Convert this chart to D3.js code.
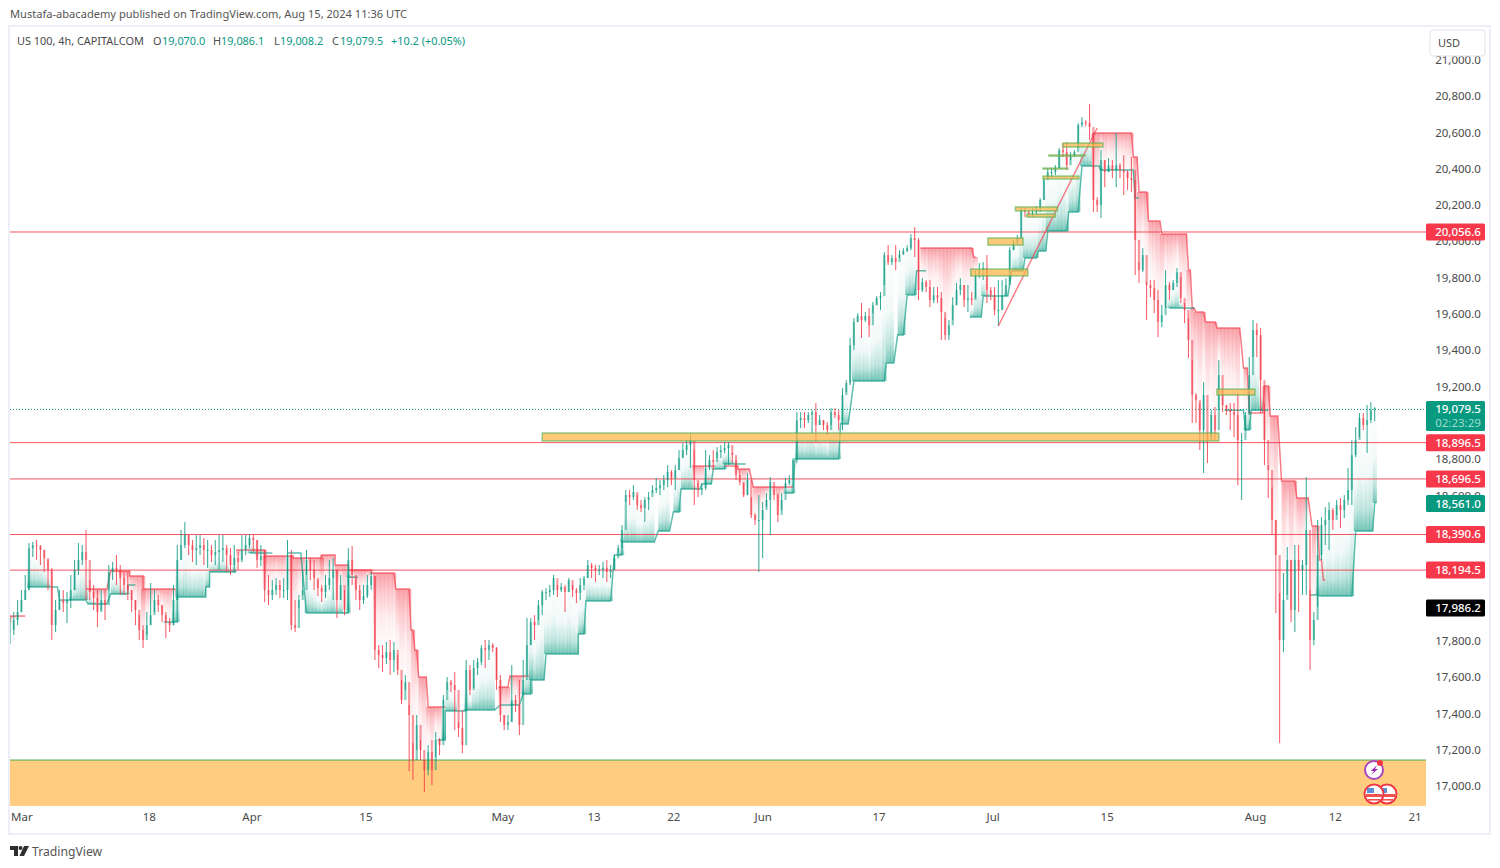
<!DOCTYPE html>
<html>
<head>
<meta charset="utf-8">
<title>US 100, 4h</title>
<script src="https://cdn.jsdelivr.net/npm/d3@7/dist/d3.min.js"></script>
<style>
html, body { margin: 0; padding: 0; background: #fff; }
svg { display: block; font-family: "Noto Sans", sans-serif; }
</style>
</head>
<body>
<script>
// one candle for every two 4h bars
const closes = [
    17859,17914,17958,18024,18079,18310,18327,18321,18300,18255,
    18190,17886,17969,18024,18007,18024,18079,18190,18245,18288,
    18245,18068,18035,17958,18024,17996,18178,18201,18190,18145,
    18107,18079,18024,17969,17859,17804,17886,17941,18024,17996,
    17941,17903,17886,18024,18245,18327,18382,18327,18300,18310,
    18327,18300,18300,18272,18288,18300,18310,18272,18217,18255,
    18234,18300,18327,18366,18355,18245,18266,18079,18052,18079,
    18107,18079,18079,18272,17886,17870,18024,18079,18245,18190,
    18145,18090,18068,18107,18145,18190,18024,18107,17969,18245,
    18162,18079,18024,18046,18107,18156,17749,17721,17704,17737,
    17694,17749,17639,17474,17572,17391,17143,17336,17198,17088,
    17187,17088,17253,17225,17474,17572,17556,17529,17319,17225,
    17639,17529,17650,17683,17760,17749,17776,17760,17584,17391,
    17336,17352,17474,17446,17336,17584,17776,17903,17886,17996,
    18068,18068,18079,18145,18079,18096,18068,18134,18079,18063,
    18107,18145,18217,18201,18190,18190,18201,18178,18190,18255,
    18310,18410,18602,18591,18619,18547,18530,18575,18591,18630,
    18641,18657,18685,18729,18696,18740,18806,18850,18878,18905,
    18685,18630,18641,18751,18795,18784,18839,18850,18861,18878,
    18822,18712,18674,18602,18685,18492,18465,18465,18520,18575,
    18674,18602,18492,18575,18668,18685,18795,19015,19026,19015,
    19043,19059,18988,19015,18988,18960,19059,19043,19015,19153,
    19219,19428,19555,19588,19566,19588,19538,19648,19687,19698,
    19924,19885,19907,19885,19929,19946,19962,20017,20006,19731,
    19775,19748,19676,19703,19687,19610,19483,19538,19648,19731,
    19759,19676,19687,19676,19814,19841,19852,19731,19703,19621,
    19621,19703,19759,19951,19995,20017,20172,20161,20155,20161,
    20177,20227,20337,20381,20381,20403,20502,20491,20419,20474,
    20491,20640,20656,20651,20629,20227,20199,20447,20381,20419,
    20392,20419,20392,20381,20348,20337,20007,19841,19924,19759,
    19742,19676,19555,19593,19759,19731,19770,19830,19687,19621,
    19456,19153,19125,18960,19153,18905,19043,18960,19263,19098,
    19070,19059,19043,18905,18905,19043,19263,19511,19483,19235,
    18905,18740,18465,18272,17804,18024,18245,17969,18245,18190,
    18217,18410,17804,17914,18272,18437,18465,18520,18465,18547,
    18520,18575,18630,18822,18905,19026,18988,19015,19070,19079.5
];
const highs = [
    17925,17958,18024,18079,18162,18338,18344,18355,18327,18300,
    18245,18201,18024,18079,18079,18068,18162,18245,18338,18327,
    18410,18134,18107,18079,18079,18079,18217,18234,18272,18217,
    18178,18178,18079,18024,17941,17886,17958,18118,18079,18052,
    17996,17958,17925,18107,18327,18410,18454,18382,18355,18382,
    18382,18366,18355,18327,18355,18382,18382,18327,18310,18327,
    18288,18382,18382,18387,18387,18355,18327,18300,18162,18134,
    18145,18134,18145,18355,18300,18024,18052,18190,18300,18255,
    18245,18134,18107,18162,18245,18255,18190,18162,18079,18310,
    18321,18145,18107,18107,18162,18178,18156,17776,17776,17793,
    17804,17793,17721,17584,17611,17446,17236,17391,17253,17143,
    17225,17253,17297,17264,17501,17600,17584,17627,17352,17418,
    17694,17666,17694,17705,17776,17804,17804,17787,17765,17611,
    17391,17391,17666,17501,17584,17694,17925,17925,17941,18024,
    18079,18090,18107,18162,18107,18118,18107,18145,18107,18090,
    18145,18156,18245,18228,18217,18217,18234,18245,18217,18272,
    18327,18437,18630,18630,18657,18602,18575,18591,18619,18657,
    18696,18685,18712,18767,18740,18767,18850,18888,18905,18944,
    18850,18668,18668,18850,18822,18850,18866,18878,18894,18894,
    18834,18795,18740,18668,18723,18591,18503,18602,18564,18613,
    18701,18630,18613,18613,18696,18712,18806,19059,19059,19059,
    19059,19070,19109,19043,19015,19004,19081,19081,19070,19191,
    19235,19467,19577,19604,19660,19610,19632,19665,19698,19720,
    19940,19979,19924,19979,19951,19962,19979,20039,20078,20017,
    19797,19786,19786,19748,19748,19720,19577,19566,19692,19770,
    19797,19759,19759,19720,19841,19880,19885,19924,19748,19748,
    19786,19786,19797,19968,20006,20034,20188,20183,20172,20183,
    20194,20238,20348,20403,20403,20419,20513,20540,20546,20491,
    20502,20651,20684,20667,20755,20596,20243,20502,20447,20458,
    20447,20596,20430,20474,20392,20464,20392,19885,19962,19775,
    19786,19786,19731,19648,19841,19775,19786,19852,19803,19660,
    19577,19345,19164,19109,19224,18944,19070,19087,19345,19180,
    19098,19109,19109,19164,18944,19059,19362,19566,19549,19522,
    19109,18767,18646,18465,18063,18173,18316,18245,18327,18327,
    18245,18701,18079,17958,18465,18481,18536,18564,18531,18575,
    18586,18602,18751,18905,18976,19054,19054,19098,19114,19086.1
];
const lows = [
    17781,17831,17886,17958,18024,18079,18261,18245,18217,18178,
    18079,17804,17848,17969,17958,17897,17980,18079,18162,18217,
    18024,18024,17969,17875,17969,17914,18079,18134,18107,18052,
    18052,18024,17958,17886,17804,17760,17831,17886,17958,17958,
    17903,17815,17848,17886,18024,18245,18310,18272,18234,18217,
    18272,18217,18201,18234,18217,18190,18234,18178,18162,18178,
    18190,18245,18272,18310,18288,18201,18211,18013,17996,18024,
    18052,18035,18035,18024,17859,17848,17980,18052,18162,18134,
    18079,18046,18013,18035,18079,18024,17925,18024,17941,18107,
    18107,18024,17969,18002,18035,18079,17694,17649,17627,17671,
    17611,17627,17611,17451,17529,17082,17033,17198,17143,16966,
    17060,17005,17159,17170,17253,17529,17517,17308,17270,17181,
    17407,17501,17539,17611,17666,17649,17694,17737,17529,17352,
    17308,17308,17352,17407,17280,17501,17611,17776,17804,17914,
    17941,18024,18041,18052,18041,18068,17958,18068,18041,18007,
    18024,18079,18145,18145,18123,18162,18145,18123,18145,18190,
    18283,18338,18564,18547,18575,18520,18508,18454,18520,18613,
    18613,18602,18630,18646,18657,18630,18740,18806,18822,18751,
    18547,18591,18602,18630,18740,18740,18806,18806,18834,18767,
    18778,18685,18657,18591,18602,18476,18437,18178,18255,18536,
    18382,18575,18454,18520,18641,18657,18646,18778,18971,18971,
    18999,18944,18894,18988,18960,18933,18988,19026,18960,18960,
    19170,19208,19400,19555,19467,19555,19472,19604,19648,19621,
    19759,19869,19869,19841,19907,19924,19940,19951,19913,19676,
    19720,19720,19637,19660,19660,19456,19456,19456,19566,19648,
    19703,19637,19610,19648,19687,19797,19786,19660,19676,19593,
    19533,19621,19703,19775,19951,19979,20023,20133,20133,20133,
    20150,20161,20227,20348,20348,20364,20403,20463,20392,20447,
    20463,20518,20629,20634,20557,20161,20161,20128,20298,20381,
    20348,20298,20348,20254,20282,20271,19814,19770,19830,19566,
    19692,19604,19472,19527,19632,19676,19731,19748,19660,19549,
    19357,18999,18999,18850,18723,18778,18921,18905,19070,19059,
    19043,18960,18921,18657,18575,18960,19054,19362,19362,19054,
    18767,18586,18382,17952,17236,17737,18052,17903,17848,17958,
    18052,18052,17639,17776,17985,18245,18327,18300,18410,18492,
    18420,18476,18547,18547,18811,18921,18960,18834,18999,19008.2
];
const barsPerCandle = 2;

// trailing stop steps, in bars and price
const greenStart = [9,26,41,53,62,81,88,103,105,126,146,156,178,225,229,239,258,270,274,282,299,303,318,322,341,349,353,364,370,376,408,413,437,444,461,467,472,477,505,512,527,534,541,546,557,564,574,592,610,639,650,653,684,689,708,718];
const greenEnd   = [25,40,51,62,66,88,103,105,119,138,153,178,183,229,239,255,268,274,281,299,302,316,322,339,347,352,363,369,376,387,412,436,441,460,465,470,476,482,511,525,533,540,545,556,562,573,591,594,623,649,652,662,688,706,717,719];
const greenLevel = [18096,18024,18002,18057,18107,17903,18041,18096,18178,18283,18283,17953,18150,17253,17413,17419,17446,17507,17584,17727,17837,18019,18272,18344,18404,18509,18636,18663,18746,18773,18613,18801,18994,19230,19330,19484,19704,19837,19583,19698,19836,19908,19946,20056,20161,20414,20392,20238,19632,19070,18961,19070,18052,18046,18404,18561];
const redStart = [0,40,53,63,70,119,134,149,164,171,178,190,203,211,213,215,220,257,263,359,376,383,391,479,507,570,591,594,599,606,620,622,624,629,635,649,652,660,663,669,677,685,689,691];
const redEnd   = [8,51,63,70,87,134,149,164,171,178,190,202,210,212,214,219,229,262,273,371,383,389,412,506,508,590,593,598,605,619,621,623,628,634,647,651,659,662,667,676,683,688,690,692];
const redLevel = [17936,18085,18184,18157,18085,18300,18267,18256,18272,18217,18190,18173,18085,17859,17749,17600,17435,17545,17606,18762,18762,18746,18647,19963,19913,20596,20464,20271,20111,20040,19841,19632,19610,19555,19522,19302,19054,19203,19037,18680,18586,18432,18245,18134];

// price levels with their tags
const levelPrices = [20056.6, 18896.5, 18696.5, 18390.6, 18194.5];
const lastPrice = 19079.5;
const stopPrice = 18561.0;
const blackPrice = 17986.2;

// supply and demand boxes
const boxStart = [280,505.5,514.5,529,535,543.5,543.5,546.6,554,635];
const boxEnd   = [636,535.5,533,551,550,562.4,556.6,565.6,575,655];
const boxTop   = [18944,19847,20018,20189,20150,20359,20403,20475,20541,19186];
const boxBottom= [18900,19809,19979,20167,20133,20343,20398,20469,20519,19153];
const demandTop = 17143;
const demandBottom = 16890;
const trendBars = [520, 572];
const trendPrices = [19533, 20624];

const priceTicks = d3.range(17000, 21001, 200);
const timeTickBars = [6,73,127,187,259,307,349,396,457,517,577,655,697,739];
const timeTickLabels = ['Mar','18','Apr','15','May','13','22','Jun','17','Jul','15','Aug','12','21'];

const publishedText = 'Mustafa-abacademy published on TradingView.com, Aug 15, 2024 11:36 UTC';
const symbolText = 'US 100, 4h, CAPITALCOM';
const ohlcNames = ['O', 'H', 'L', 'C'];
const ohlcValues = ['19,070.0', '19,086.1', '19,008.2', '19,079.5'];
const changeText = '+10.2 (+0.05%)';

const width = 1500;
const height = 868;
const plot = {left: 10, right: 1426, top: 27, bottom: 806};
const upColor = '#089981';
const downColor = '#f23645';
const textColor = '#4a4a4a';
// level lines and tags sit a pixel under the tick grid in the source
const levelNudge = 1;

const svg = d3.select('body')
    .append('svg')
    .attr('width', width)
    .attr('height', height);

const xScale = d3.scaleLinear().domain([0, 745]).range([plot.left, plot.right]);
const yScale = d3.scaleLinear().domain([17000, 20800]).range([786, 96]);
const fmt = d3.format(',.1f');

const defs = svg.append('defs');
defs.append('clipPath').attr('id', 'plotClip')
    .append('rect')
    .attr('x', plot.left).attr('y', plot.top)
    .attr('width', plot.right - plot.left).attr('height', plot.bottom - plot.top);

function addFade(id, stops, color) {
    const g = defs.append('linearGradient').attr('id', id)
        .attr('x1', 0).attr('x2', 0).attr('y1', 0).attr('y2', 1);
    stops.forEach(s => {
        g.append('stop').attr('offset', s[0]).attr('stop-color', color).attr('stop-opacity', s[1]);
    });
}
addFade('redFade', [[0, 0.45], [0.25, 0.24], [0.55, 0.08], [1, 0]], downColor);
addFade('greenFade', [[0, 0], [0.5, 0.05], [0.8, 0.24], [1, 0.55]], upColor);

// frame
svg.append('rect')
    .attr('x', 9).attr('y', 26).attr('width', 1481).attr('height', 808)
    .attr('fill', '#fff').attr('stroke', '#eeeff6').attr('stroke-width', 2);

const chart = svg.append('g').attr('clip-path', 'url(#plotClip)');

// demand zone along the bottom
chart.append('rect')
    .attr('x', plot.left).attr('width', plot.right - plot.left)
    .attr('y', yScale(demandTop)).attr('height', yScale(demandBottom) - yScale(demandTop))
    .attr('fill', '#ffcc80');
chart.append('line')
    .attr('x1', plot.left).attr('x2', plot.right)
    .attr('y1', yScale(demandTop)).attr('y2', yScale(demandTop))
    .attr('stroke', '#4caf50').attr('stroke-width', 1);

const candles = closes.map((c, i) => ({
    bar: i * barsPerCandle,
    open: i ? closes[i - 1] : c,
    close: c,
    high: highs[i],
    low: lows[i]
}));

// fill one column per candle between the stop level and the close
function drawFade(starts, ends, levels, isRed) {
    starts.forEach((s, r) => {
        const inRun = candles.filter(d => d.bar >= s && d.bar <= ends[r]
            && (isRed ? d.close < levels[r] : d.close > levels[r]));
        chart.append('g').selectAll('rect')
            .data(inRun)
            .enter()
            .append('rect')
            .attr('x', d => xScale(d.bar - 1))
            .attr('width', xScale(barsPerCandle) - xScale(0) + 0.3)
            .attr('y', d => yScale(isRed ? levels[r] : d.close))
            .attr('height', d => Math.abs(yScale(d.close) - yScale(levels[r])))
            .attr('fill', isRed ? 'url(#redFade)' : 'url(#greenFade)');
    });
}
drawFade(redStart, redEnd, redLevel, true);
drawFade(greenStart, greenEnd, greenLevel, false);

// horizontal levels
chart.selectAll('.level')
    .data(levelPrices)
    .enter()
    .append('line')
    .attr('class', 'level')
    .attr('x1', plot.left).attr('x2', plot.right)
    .attr('y1', d => yScale(d) + levelNudge).attr('y2', d => yScale(d) + levelNudge)
    .attr('stroke', downColor).attr('stroke-opacity', 0.85).attr('stroke-width', 1);
chart.append('line')
    .attr('x1', plot.left).attr('x2', plot.right)
    .attr('y1', yScale(lastPrice) + levelNudge).attr('y2', yScale(lastPrice) + levelNudge)
    .attr('stroke', upColor).attr('stroke-width', 1).attr('stroke-dasharray', '1 2');

// stop lines, neighbouring steps joined
const stepLine = d3.line().x(d => xScale(d[0])).y(d => yScale(d[1]));
function drawSteps(starts, ends, levels, color) {
    let pts = [];
    starts.forEach((s, r) => {
        if (r && s - ends[r - 1] > 3) {
            chart.append('path').attr('d', stepLine(pts)).attr('fill', 'none')
                .attr('stroke', color).attr('stroke-opacity', 0.65).attr('stroke-width', 1.5);
            pts = [];
        }
        pts.push([s, levels[r]], [ends[r], levels[r]]);
    });
    chart.append('path').attr('d', stepLine(pts)).attr('fill', 'none')
        .attr('stroke', color).attr('stroke-opacity', 0.65).attr('stroke-width', 1.5);
}
drawSteps(redStart, redEnd, redLevel, downColor);
drawSteps(greenStart, greenEnd, greenLevel, upColor);

// candles
const candle = chart.append('g').selectAll('g')
    .data(candles)
    .enter()
    .append('g');
candle.append('line')
    .attr('x1', d => xScale(d.bar)).attr('x2', d => xScale(d.bar))
    .attr('y1', d => yScale(d.high)).attr('y2', d => yScale(d.low))
    .attr('stroke', d => d.close >= d.open ? upColor : downColor)
    .attr('stroke-opacity', 0.85)
    .attr('stroke-width', 1);
candle.append('rect')
    .attr('x', d => xScale(d.bar) - 1.1)
    .attr('width', 2.2)
    .attr('y', d => yScale(Math.max(d.open, d.close)))
    .attr('height', d => Math.max(1, Math.abs(yScale(d.open) - yScale(d.close))))
    .attr('fill', d => d.close >= d.open ? upColor : downColor)
    .attr('fill-opacity', 0.5);

// trend line
chart.append('line')
    .attr('x1', xScale(trendBars[0])).attr('x2', xScale(trendBars[1]))
    .attr('y1', yScale(trendPrices[0])).attr('y2', yScale(trendPrices[1]))
    .attr('stroke', downColor).attr('stroke-opacity', 0.65).attr('stroke-width', 1.4);

// boxes
chart.selectAll('.box')
    .data(boxStart)
    .enter()
    .append('rect')
    .attr('class', 'box')
    .attr('x', d => xScale(d))
    .attr('width', (d, i) => xScale(boxEnd[i]) - xScale(d))
    .attr('y', (d, i) => yScale(boxTop[i]))
    .attr('height', (d, i) => yScale(boxBottom[i]) - yScale(boxTop[i]))
    .attr('fill', '#ffb74d').attr('fill-opacity', 0.75)
    .attr('stroke', '#4caf50').attr('stroke-opacity', 0.6).attr('stroke-width', 1.5);

// axes
const yAxis = d3.axisRight(yScale)
    .tickValues(priceTicks)
    .tickFormat(fmt)
    .tickSize(0)
    .tickPadding(0);
const yAxisG = svg.append('g')
    .attr('transform', 'translate(1458, 0)')
    .call(yAxis);
yAxisG.select('.domain').remove();
yAxisG.selectAll('text')
    .attr('text-anchor', 'middle')
    .attr('font-size', 11.5)
    .attr('font-family', '"Noto Sans", sans-serif')
    .attr('fill', textColor);

const xAxis = d3.axisBottom(xScale)
    .tickValues(timeTickBars)
    .tickFormat((d, i) => timeTickLabels[i])
    .tickSize(0)
    .tickPadding(7);
const xAxisG = svg.append('g')
    .attr('transform', 'translate(0, ' + plot.bottom + ')')
    .call(xAxis);
xAxisG.select('.domain').remove();
xAxisG.selectAll('text')
    .attr('font-size', 11.5)
    .attr('font-family', '"Noto Sans", sans-serif')
    .attr('fill', textColor);

// price tags on the right
function priceTag(price, color, h) {
    const y = yScale(price) + levelNudge;
    svg.append('rect')
        .attr('x', 1426).attr('y', y - 8.5).attr('width', 59).attr('height', h)
        .attr('rx', 1.5).attr('fill', color);
    svg.append('text')
        .attr('x', 1458).attr('y', y + 4)
        .attr('text-anchor', 'middle').attr('font-size', 11.5).attr('font-weight', 500)
        .attr('fill', '#fff')
        .text(fmt(price));
}
levelPrices.forEach(p => priceTag(p, '#f7384a', 17));
priceTag(stopPrice, upColor, 17);
priceTag(blackPrice, '#000', 17);
priceTag(lastPrice, upColor, 30);
svg.append('text')
    .attr('x', 1458).attr('y', yScale(lastPrice) + levelNudge + 18)
    .attr('text-anchor', 'middle').attr('font-size', 11.5)
    .attr('fill', '#9ddccf')
    .text('02:23:29');

// currency button covers the clipped top tick
svg.append('rect')
    .attr('x', 1430).attr('y', 30).attr('width', 55).attr('height', 26)
    .attr('rx', 3).attr('fill', '#fff').attr('stroke', '#e0e3eb');
svg.append('text')
    .attr('x', 1449).attr('y', 47)
    .attr('text-anchor', 'middle').attr('font-size', 11).attr('fill', textColor)
    .text('USD');

// header and legend
svg.append('text')
    .attr('x', 10).attr('y', 18)
    .attr('font-size', 11.1).attr('fill', '#555')
    .text(publishedText);
svg.append('text')
    .attr('x', 17).attr('y', 45)
    .attr('font-size', 10.9).attr('fill', textColor)
    .text(symbolText);
const ohlcNameX = [153, 213, 274, 332];
const ohlcValueX = [162, 221, 280, 340];
ohlcNames.forEach((name, i) => {
    svg.append('text')
        .attr('x', ohlcNameX[i]).attr('y', 45)
        .attr('font-size', 10.9).attr('fill', textColor)
        .text(name);
    svg.append('text')
        .attr('x', ohlcValueX[i]).attr('y', 45)
        .attr('font-size', 10.9).attr('fill', upColor)
        .text(ohlcValues[i]);
});
svg.append('text')
    .attr('x', 391).attr('y', 45)
    .attr('font-size', 10.9).attr('fill', upColor)
    .text(changeText);

// event markers
const eventG = svg.append('g');
eventG.append('circle').attr('cx', 1374).attr('cy', 770).attr('r', 9)
    .attr('fill', '#fff').attr('stroke', '#ab47bc').attr('stroke-width', 2);
eventG.append('path').attr('d', 'M1377 765 L1371 771 L1374 771 L1371 775 L1378 769 L1375 769 Z').attr('fill', '#9c27b0');
eventG.append('circle').attr('cx', 1380).attr('cy', 763).attr('r', 3).attr('fill', '#f23645');
[1387, 1374].forEach(cx => {
    eventG.append('circle').attr('cx', cx).attr('cy', 794).attr('r', 9.5)
        .attr('fill', '#fff').attr('stroke', '#f23645').attr('stroke-width', 2);
    eventG.append('rect').attr('x', cx - 8).attr('y', 794).attr('width', 16).attr('height', 3).attr('fill', '#ef5350');
    eventG.append('rect').attr('x', cx - 7).attr('y', 788).attr('width', 7).attr('height', 5).attr('fill', '#5c8fd6');
    eventG.append('rect').attr('x', cx - 6).attr('y', 799).attr('width', 12).attr('height', 1.6).attr('fill', '#ef5350');
});

// logo
const logo = svg.append('g').attr('fill', '#2e2e2e');
logo.append('path').attr('d', 'M10 846 H18 V856 H14 V850 H10 Z');
logo.append('circle').attr('cx', 20.5).attr('cy', 848).attr('r', 2);
logo.append('path').attr('d', 'M24 846 H29 L24 856 H19.5 Z');
svg.append('text')
    .attr('x', 32).attr('y', 856)
    .attr('font-size', 12.2).attr('fill', '#555')
    .text('TradingView');
</script>
</body>
</html>
